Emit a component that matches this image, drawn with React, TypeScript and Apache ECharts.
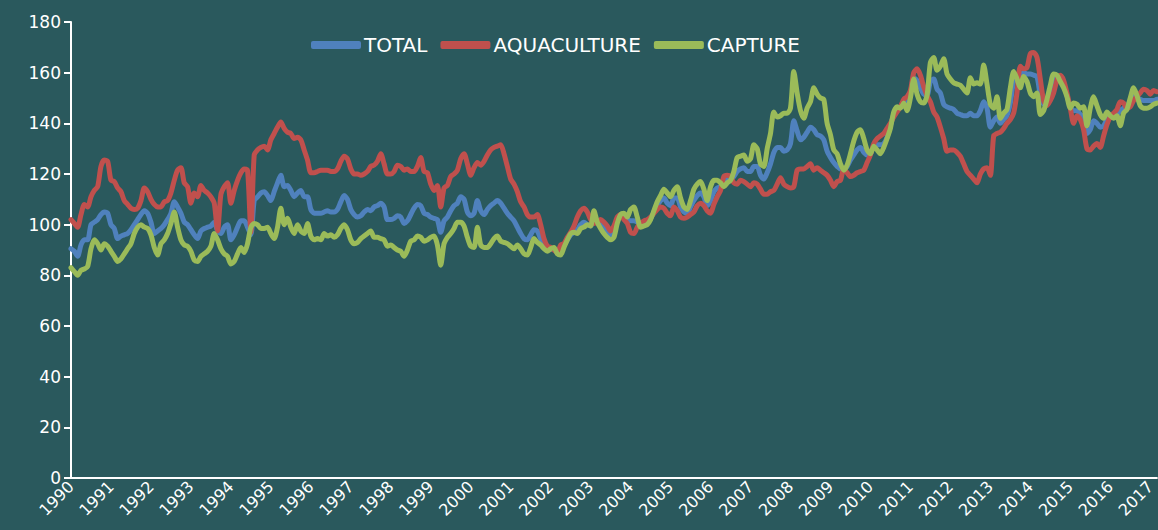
import React, { useEffect, useRef } from "react";
import * as echarts from "echarts";

const startYear = 1990;
const monthCount = 327;
const months: string[] = Array.from({ length: monthCount }, (_, i) => {
  const y = startYear + Math.floor(i / 12);
  const m = (i % 12) + 1;
  return `${y}-${m < 10 ? "0" + m : m}`;
});

const total: number[] = [
  90.5, 89.5, 87.5, 92, 94, 94, 100, 101, 102, 104, 105, 104.5,
  100, 98.5, 94.5, 95.5, 96, 96.5, 98, 100, 102, 104, 105.5, 104.5,
  101, 96.5, 97.5, 98.5, 100, 102, 104.5, 109, 107, 104.5, 101, 100,
  98, 96, 94.5, 97.5, 98.5, 99, 99.5, 101, 97.5, 96.5, 99, 100,
  94, 96, 99, 101.5, 101.5, 99, 96, 109.5, 111, 112.5, 113, 111.5,
  109.5, 113, 116.5, 119.5, 115, 115.5, 113.5, 111, 112.5, 113.5, 111, 111,
  106, 104.5, 104.5, 104.5, 105, 105.5, 105, 105, 106, 109, 111.5, 110,
  106, 104, 103, 103.5, 105, 106, 105.5, 107, 107.5, 108.5, 107, 102,
  102, 102.5, 103.5, 103, 100.5, 101.5, 104, 106.5, 108, 107.5, 104.5, 104,
  103, 102.5, 102, 97, 101.5, 103, 105.5, 107.5, 108.5, 111, 110, 105,
  103.5, 104.5, 109.5, 105.5, 104, 106, 107.5, 108.5, 109.5, 108.5, 106.5, 104.5,
  103, 101.5, 99, 96.5, 94.5, 94, 96, 98, 97.5, 94.5, 92.5, 91,
  90.5, 90, 89.5, 91, 92, 94, 96, 97, 98, 100, 101, 100,
  99.5, 102, 101, 100.5, 99, 97.5, 96, 97.5, 101.5, 104, 103.5, 102,
  101.5, 101.5, 101, 100, 100.5, 101, 102.5, 105, 107.5, 109.5, 110.5, 108.5,
  107.5, 110.5, 110.5, 107, 105, 104.5, 107, 109.5, 111.5, 112.5, 111, 107.5,
  109.5, 113, 114.5, 115, 117, 118, 118, 119, 121, 122, 122.5, 121,
  121, 123, 123, 119.5, 118, 120.5, 124, 128.5, 130.5, 130.5, 129, 129.5,
  132, 141, 137, 133.5, 134.5, 136.5, 138.5, 137.5, 135.5, 135, 133.5, 129,
  126.5, 124.5, 123, 122, 122, 123, 125.5, 127.5, 129.5, 130.5, 128.5, 127.5,
  128, 131, 131.5, 131.5, 132, 134.5, 139, 143.5, 145.5, 146.5, 148.5, 147.5,
  151, 158, 157, 154, 151.5, 151, 156.5, 157.5, 153.5, 152, 147.5, 146.5,
  146, 145.5, 144, 143.5, 143, 143, 144, 143, 143, 145, 148.5, 146,
  138.5, 141, 142.5, 140, 141.5, 143, 148, 156.5, 157.5, 159, 160, 159.5,
  159.5, 159, 158.5, 151, 147.5, 147.5, 152, 157, 158, 157.5, 155.5, 151,
  146.5, 145, 145, 143.5, 142.5, 136, 137.5, 141, 140, 138.5, 139, 141.5,
  142.5, 142.5, 143.5, 145, 146, 146.5, 149, 150.5, 150, 149.5, 149, 149,
  149, 149, 149.5,
];

const aquaculture: number[] = [
  102, 100.5, 99, 104, 108, 107, 111, 113.5, 115, 123, 125.5, 125,
  117.5, 117, 114.5, 113, 109.5, 108, 106.5, 106, 106.5, 109.5, 114.5, 113,
  110, 108, 107, 107, 109, 109.5, 112.5, 117.5, 121.5, 122.5, 116.5, 115,
  108.5, 112.5, 111, 115.5, 113.5, 112.5, 111, 108.5, 97.5, 112, 115, 116.5,
  108.5, 113.5, 117.5, 120.5, 122, 121.5, 97, 127.5, 129.5, 130.5, 131, 129.5,
  133.5, 136, 138.5, 140.5, 138, 136.5, 136, 134, 134.5, 133.5, 129.5, 125.5,
  120.5, 120.5, 121, 121.5, 121.5, 121.5, 121, 121, 122, 125, 127, 126,
  122, 120, 120, 119.5, 120, 121, 123, 123.5, 125, 128, 124, 120,
  120, 121, 123.5, 123, 121.5, 122, 121, 121, 123, 126.5, 121, 120.5,
  116, 113.5, 115.5, 107, 114.5, 115.5, 119, 120, 121.5, 126, 128, 124,
  119.5, 122.5, 124.5, 123.5, 125, 127.5, 129.5, 130.5, 131, 131.5, 128, 123,
  118, 116, 113, 109, 107, 104, 103, 103, 104, 100, 94.5, 91.5,
  91, 90, 89, 92, 92.5, 95, 97, 99.5, 103, 105.5, 106.5, 105,
  102, 100.5, 101, 102, 101, 99.5, 97.5, 99.5, 103, 104, 102, 100.5,
  97, 96.5, 99, 100.5, 101.5, 102, 103, 104.5, 106, 107, 106.5, 104.5,
  103.5, 107, 105.5, 103, 102.5, 103, 104, 105, 107.5, 108.5, 107.5, 105.5,
  104.5, 108, 111, 113.5, 119, 119.5, 119, 116.5, 116, 117.5, 117, 116,
  115, 116.5, 116, 114, 112, 112, 113, 113.5, 116, 118.5, 116, 115,
  114.5, 115, 121.5, 122, 122, 123, 124, 121.5, 122.5, 121.5, 120.5, 119.5,
  117.5, 115, 117, 117.5, 122, 120.5, 119, 119.5, 120.5, 121, 121.5, 124.5,
  127.5, 132, 134, 135, 136, 138, 140, 142.5, 144.5, 146.5, 149.5, 150.5,
  153, 160, 161.5, 159, 154.5, 151, 148.5, 144.5, 142.5, 138.5, 134, 129,
  129.5, 129.5, 128.5, 127, 124, 121, 119.5, 118, 116.5, 120, 122, 122.5,
  119.5, 135, 136, 136.5, 138, 140, 141.5, 144, 152, 162.5, 161.5, 162,
  167.5, 168, 166, 157.5, 149, 147, 149, 152, 157, 159, 157, 152,
  146, 140, 143, 141.5, 137.5, 130, 129.5, 131, 132, 130.5, 135, 139.5,
  142.5, 144, 145.5, 148.5, 148, 146, 146.5, 149, 150.5, 152, 153.5, 153,
  151.5, 153, 152.5,
];

const capture: number[] = [
  83, 81.5, 80, 82, 82.5, 83.5, 90.5, 94, 92.5, 90, 92.5, 91.5,
  89.5, 87.5, 85.5, 86.5, 88.5, 90.5, 92.5, 96.5, 99, 100, 99, 98.5,
  96, 91, 88, 92.5, 94, 96.5, 100.5, 105, 99, 94, 92, 91.5,
  89.5, 86, 85.5, 87.5, 88.5, 89.5, 91.5, 96.5, 94, 90.5, 88.5, 87.5,
  84.5, 85.5, 88.5, 91, 89, 92.5, 99, 100.5, 100, 98.5, 98.5, 99,
  96.5, 94.5, 99, 106.5, 100, 102.5, 99, 96.5, 100, 97.5, 96.5, 100.5,
  95.5, 94, 94.5, 94, 96.5, 95.5, 96, 95, 96, 98.5, 100, 98,
  94, 92.5, 93, 94.5, 95.5, 96.5, 97.5, 95, 95, 94.5, 94, 91.5,
  92, 91, 90, 89.5, 87.5, 90, 93.5, 94, 95.5, 95, 93.5, 94,
  95, 95.5, 92, 84, 92.5, 95, 96.5, 98.5, 101, 101, 99.5, 95,
  91.5, 91, 99, 92, 91, 91, 92.5, 94.5, 95.5, 93.5, 93, 92.5,
  91.5, 90.5, 92, 90.5, 88.5, 88, 91, 94.5, 93, 92, 90.5, 89.5,
  90.5, 91, 88.5, 88, 91, 94, 96.5, 97, 96.5, 98.5, 99, 100,
  99.5, 105.5, 101, 98.5, 96.5, 95, 94, 95, 100.5, 104, 104.5, 103,
  106, 107, 103, 99, 99.5, 100, 102, 105.5, 109, 111.5, 114, 112.5,
  111, 113.5, 115, 110.5, 107, 106, 109.5, 114, 116, 117, 114, 109.5,
  115, 117.5, 117.5, 116.5, 115, 116.5, 117.5, 121, 126.5, 127, 127.5, 125,
  126, 131.5, 130, 124, 123, 130, 136, 144.5, 142.5, 143, 144, 144,
  146, 160.5, 152, 145, 142, 146, 148.5, 154, 151.5, 150, 149.5, 140,
  135.5, 129.5, 128, 124, 121.5, 123.5, 128, 133, 136.5, 137.5, 134, 129.5,
  128, 131, 129.5, 128, 130.5, 134, 138, 144.5, 146.5, 146, 148, 145,
  150, 157.5, 151.5, 148.5, 148, 151, 164, 166, 161, 162.5, 165.5, 159.5,
  157.5, 156, 155.5, 155, 153.5, 152, 158, 155.5, 156, 155.5, 163, 155.5,
  147.5, 146, 150.5, 142, 144, 145.5, 154, 160.5, 157.5, 154, 158.5, 156.5,
  152, 150.5, 152, 143.5, 145, 149.5, 155, 159.5, 159, 156.5, 154, 150.5,
  146, 148, 147.5, 146, 146.5, 139, 146, 150.5, 147, 143.5, 142, 144.5,
  143, 142, 143, 139, 144, 145.5, 150, 154, 151, 147, 146, 146,
  146.5, 147.5, 148,
];

const seriesNames = ["TOTAL", "AQUACULTURE", "CAPTURE"];
const seriesColors = ["#4f81bd", "#c0504d", "#9bbb59"];

export default function App() {
  const ref = useRef<HTMLDivElement>(null);
  useEffect(() => {
    if (!ref.current) return;
    const chart = echarts.init(ref.current, undefined, { renderer: "svg" });
    const font = "DejaVu Sans";
    const yearTick = (idx: number) => idx % 12 === 0;
    chart.setOption({
      animation: false,
      backgroundColor: "#2a595d",
      legend: {
        top: 30,
        left: 306,
        itemWidth: 50,
        itemHeight: 8,
        itemGap: 13,
        icon: "roundRect",
        textStyle: { color: "#ffffff", fontSize: 20, fontFamily: font, padding: [0, 0, 0, -2] },
        data: seriesNames,
      },
      grid: { left: 71, right: 0, top: 22, bottom: 52, containLabel: false },
      xAxis: {
        type: "category",
        data: months,
        boundaryGap: false,
        axisLine: { lineStyle: { color: "#ffffff", width: 2 } },
        axisTick: { show: false },
        axisLabel: {
          interval: yearTick,
          rotate: 45,
          color: "#ffffff",
          fontSize: 16,
          fontFamily: font,
          margin: 6,
          formatter: (v: string) => v.slice(0, 4),
        },
        splitLine: { show: false },
      },
      yAxis: {
        type: "value",
        min: 0,
        max: 180,
        interval: 20,
        axisLine: { show: true, lineStyle: { color: "#ffffff", width: 2 } },
        axisTick: { show: true, length: 7, lineStyle: { color: "#ffffff", width: 2 } },
        axisLabel: { color: "#ffffff", fontSize: 17, fontFamily: font, margin: 10 },
        splitLine: { show: false },
      },
      series: [total, aquaculture, capture].map((d, k) => ({
        name: seriesNames[k],
        type: "line",
        data: d,
        showSymbol: false,
        symbol: "none",
        smooth: 0.25,
        color: seriesColors[k],
        lineStyle: { color: seriesColors[k], width: 5, cap: "round", join: "round" },
        itemStyle: { color: seriesColors[k] },
      })),
    });
    return () => chart.dispose();
  }, []);
  return (
    <div
      ref={ref}
      style={{ position: "fixed", left: 0, top: 0, width: 1158, height: 530 }}
    />
  );
}
